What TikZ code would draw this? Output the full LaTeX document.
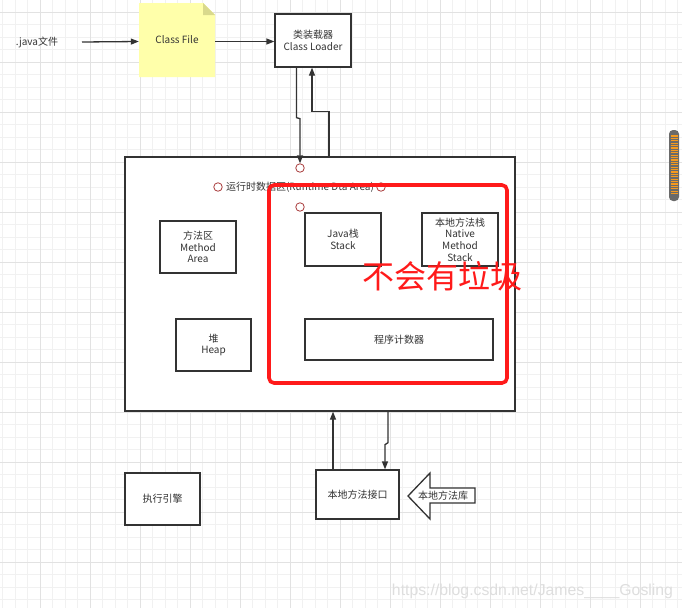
\documentclass[tikz,border=0pt]{standalone}
\usepackage{fontspec}
\setmainfont{Noto Sans CJK SC}
\newfontfamily\wmfont{Liberation Sans}
\usetikzlibrary{arrows.meta,calc}
\definecolor{ln}{HTML}{333333}
\definecolor{txt}{HTML}{333333}
\definecolor{gminor}{HTML}{F1F1F1}
\definecolor{gmajor}{HTML}{E2E2E2}
\definecolor{noteyel}{HTML}{FFFFAA}
\definecolor{notefold}{HTML}{D9D98C}
\definecolor{circ}{HTML}{A83A3A}
\definecolor{redbox}{HTML}{FF1A1A}
\definecolor{wmcol}{HTML}{DEDEDE}
\definecolor{sbgray}{HTML}{6A6A6A}
\definecolor{sborange}{HTML}{F59A1E}
\begin{document}
\begin{tikzpicture}[x=1pt,y=-1pt,
  box/.style={draw=ln,line width=1.3pt,fill=white,align=center,inner sep=2pt,
    font=\fontsize{10}{11.7}\selectfont,text=txt},
  lbl/.style={font=\fontsize{10}{11.7}\selectfont,text=txt,inner sep=0pt,align=center},
  arr/.style={draw=ln,line width=1.3pt,-{Triangle[length=8pt,width=6pt]}},
  rc/.style={circle,draw=circ,line width=0.8pt,minimum size=8.5pt,inner sep=0pt}]
% background and grid
\fill[white] (0,0) rectangle (682,608);
\useasboundingbox (0,0) rectangle (682,608);
\foreach \x in {2.5,15,...,682} \draw[gminor,line width=1pt] (\x,0) -- (\x,608);
\foreach \y in {-0.5,12,...,608} \draw[gminor,line width=1pt] (0,\y) -- (682,\y);
\foreach \x in {40,90,...,640} \draw[gmajor,line width=1pt] (\x,0) -- (\x,608);
\foreach \y in {12,62,...,562} \draw[gmajor,line width=1pt] (0,\y) -- (682,\y);

% top row
\node[lbl] (jf) at (37,42) {.java文件};
\coordinate (a0) at (82,42);
\path[fill=noteyel] (139,3) -- (203,3) -- (215,15) -- (215,77) -- (139,77) -- cycle;
\path[fill=notefold] (203,3) -- (215,15) -- (203,15) -- cycle;
\node[lbl,minimum width=76pt,minimum height=74pt] (cf) at (177,40) {Class File};
\node[box,minimum width=76pt,minimum height=53pt] (cl) at (313,40.5) {类装载器\\Class Loader};
\draw[arr] (a0) -- ([yshift=-1.5pt]cf.west);
\draw[arr] ([yshift=-1.5pt]cf.east) -- ([yshift=-1pt]cl.west);

% runtime data area
\node[box,minimum width=390pt,minimum height=254pt] (rt) at (320,284) {};
\node[lbl] (rtl) at (300,187) {运行时数据区(Runtime Dta Area)};
\node[rc] (c1) at (300,168) {};
\node[rc] (c2) at (218,187) {};
\node[rc] (c3) at (381,187) {};
\node[rc] (c4) at (300,207) {};
\node[box,minimum width=76pt,minimum height=52pt] (ma) at (198,247) {方法区\\Method\\Area};
\node[box,minimum width=76pt,minimum height=53pt] (js) at (343,239.5) {Java栈\\Stack};
\node[box,minimum width=76pt,minimum height=53pt] (ns) at (460,239.5) {本地方法栈\\Native\\Method\\Stack};
\node[box,minimum width=75pt,minimum height=52pt] (hp) at (213.5,345) {堆\\Heap};
\node[box,minimum width=188pt,minimum height=41pt] (pc) at (399,339.5) {程序计数器};
\node[draw=redbox,line width=3.6pt,rounded corners=5pt,minimum width=238pt,minimum height=198pt] (nogc) at (388,284) {};
\node[text=redbox,font=\fontsize{32}{34}\selectfont,inner sep=0pt] (ngt) at (442,276) {不会有垃圾};

% loader <-> runtime
\draw[arr] ([xshift=-16.5pt]cl.south) -- ++(0,50) -- ++(3.5,1) -- (c1.north);
\draw[arr] ([xshift=9pt]rt.north) -- ++(0,-45) -| ([xshift=-1pt]cl.south);

% bottom row
\node[box,minimum width=75pt,minimum height=52pt] (ee) at (162.5,499) {执行引擎};
\node[box,minimum width=83pt,minimum height=49pt] (ni) at (357.5,494.5) {本地方法接口};
\draw[arr] ([xshift=-24.5pt]ni.north) -- ([xshift=13pt]rt.south);
\draw[arr] ([xshift=68pt]rt.south) -- ++(0,31) -- ++(-3,2) -- ([xshift=27.5pt]ni.north);
\draw[ln,line width=1.3pt,fill=white,line join=miter]
  (408,496) -- (430,473) -- (430,488) -- (475,488) -- (475,503) -- (430,503) -- (430,519) -- cycle;
\node[lbl] (lib) at (443,496) {本地方法库};

% scrollbar widget
\fill[sbgray,rounded corners=4pt] (669,130) rectangle (679,201);
\foreach \y in {136,138.4,...,195} \draw[sborange,line width=1.2pt] (670.5,\y) -- (677.5,\y);

% watermark
\node[text=wmcol,font=\wmfont\fontsize{15.8}{18}\selectfont,inner sep=0pt] (wm) at (532.5,591) {https://blog.csdn.net/James\_\_\_\_Gosling};
\end{tikzpicture}
\end{document}
